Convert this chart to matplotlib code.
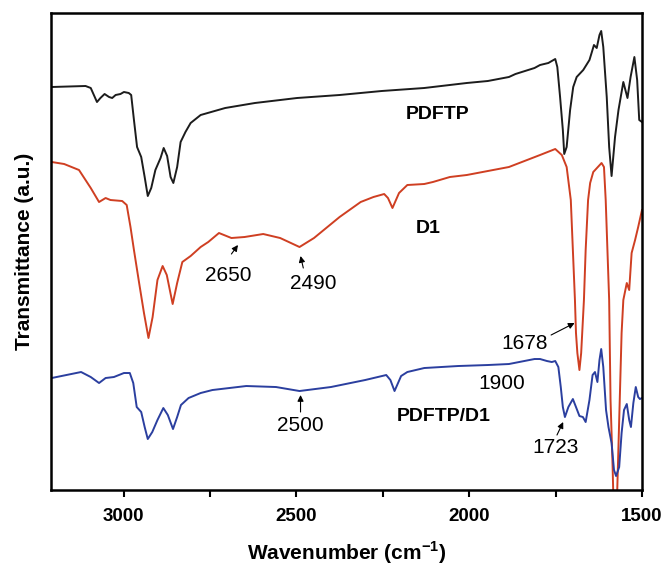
import matplotlib.pyplot as plt
from matplotlib.ticker import MultipleLocator

plt.rcParams['font.family'] = ['Liberation Sans', 'DejaVu Sans']
plt.rcParams['mathtext.fontset'] = 'custom'
plt.rcParams['mathtext.rm'] = 'Liberation Sans'
plt.rcParams['mathtext.bf'] = 'Liberation Sans:bold'

# FTIR spectra, transmittance in arbitrary units
pdftp_wn = [3208, 3110, 3095, 3077, 3067, 3055, 3042, 3033, 3023, 3009, 2999, 2985,
            2978, 2970, 2961, 2949, 2939, 2930, 2920, 2908, 2893, 2884, 2874, 2864,
            2856, 2845, 2835, 2821, 2806, 2777, 2706, 2620, 2498, 2375, 2253, 2130,
            2007, 1946, 1885, 1866, 1811, 1795, 1771, 1751, 1745, 1737, 1729, 1725,
            1718, 1708, 1699, 1689, 1670, 1652, 1645, 1639, 1631, 1623, 1618, 1612,
            1602, 1595, 1588, 1578, 1568, 1554, 1542, 1533, 1522, 1514, 1508, 1500]
pdftp_t = [403, 404, 402, 388, 392, 396, 393, 392, 395, 396, 398, 397,
           395, 370, 343, 333, 313, 294, 302, 320, 332, 342, 334, 313,
           307, 323, 348, 358, 367, 375, 382, 387, 392, 395, 399, 402,
           407, 409, 413, 416, 422, 425, 427, 431, 423, 393, 360, 336,
           343, 380, 403, 413, 420, 430, 438, 445, 442, 455, 459, 443,
           393, 343, 314, 353, 380, 408, 392, 413, 433, 410, 370, 368]

d1_wn = [3208, 3172, 3129, 3095, 3071, 3052, 3038, 3004, 2991, 2980, 2970, 2955,
         2941, 2928, 2916, 2902, 2887, 2875, 2858, 2845, 2830, 2806, 2777, 2755,
         2724, 2688, 2650, 2596, 2547, 2522, 2491, 2449, 2375, 2314, 2277, 2246,
         2235, 2222, 2203, 2179, 2130, 2105, 2056, 2007, 1885, 1795, 1751, 1732,
         1718, 1706, 1694, 1691, 1687, 1681, 1676, 1671, 1668, 1663, 1656, 1650,
         1641, 1617, 1610, 1605, 1595, 1591, 1585, 1583, 1572, 1567, 1559, 1554,
         1544, 1537, 1530, 1520, 1511, 1500]
d1_t = [328, 326, 320, 302, 288, 292, 290, 289, 285, 263, 240, 207,
        177, 152, 173, 210, 224, 215, 186, 207, 228, 234, 243, 248,
        257, 252, 253, 256, 252, 248, 243, 252, 273, 288, 293, 296,
        292, 282, 297, 305, 306, 308, 313, 315, 323, 335, 341, 335,
        323, 290, 190, 157, 137, 120, 137, 170, 190, 240, 290, 307,
        318, 327, 323, 290, 190, 90, 23, -5, -5, 57, 157, 190,
        207, 200, 237, 250, 263, 280]

blend_wn = [3208, 3123, 3095, 3071, 3052, 3028, 2999, 2982, 2972, 2962, 2949, 2939,
            2930, 2917, 2902, 2885, 2872, 2857, 2845, 2834, 2812, 2777, 2743, 2645,
            2559, 2491, 2400, 2301, 2240, 2228, 2216, 2197, 2179, 2130, 2032, 1946,
            1885, 1811, 1795, 1775, 1761, 1751, 1742, 1735, 1729, 1723, 1713, 1700,
            1691, 1681, 1671, 1663, 1652, 1643, 1636, 1629, 1623, 1618, 1612, 1604,
            1597, 1588, 1581, 1575, 1566, 1559, 1552, 1544, 1537, 1532, 1525, 1518,
            1511, 1506, 1500]
blend_t = [112, 118, 113, 107, 112, 113, 117, 117, 107, 83, 78, 63,
           51, 58, 70, 82, 75, 61, 73, 85, 92, 97, 100, 104,
           103, 99, 103, 110, 115, 110, 99, 114, 118, 122, 124, 125,
           126, 131, 131, 129, 128, 129, 123, 103, 83, 73, 83, 91,
           83, 74, 73, 68, 90, 115, 118, 108, 130, 141, 123, 80,
           63, 47, 20, 14, 23, 57, 80, 86, 70, 63, 87, 103,
           93, 91, 92]

spectra = [(pdftp_wn, pdftp_t, '#1c1c1c'),
           (d1_wn, d1_t, '#cf3f22'),
           (blend_wn, blend_t, '#2b3f9f')]

fig = plt.figure(figsize=(6.65, 5.65), dpi=100)
ax = fig.add_axes([0.0767, 0.1327, 0.8887, 0.8443])

for wn, t, c in spectra:
    ax.plot(wn, t, color=c, lw=1.4)

ax.set_xlim(3210, 1500)
ax.set_ylim(0, 477)
ax.set_yticks([])
ax.xaxis.set_major_locator(MultipleLocator(500))
ax.xaxis.set_minor_locator(MultipleLocator(250))
ax.tick_params(axis='x', which='both', direction='out', length=5, width=1.5,
               labelsize=13.5, pad=8)
for lab in ax.get_xticklabels():
    lab.set_fontweight('bold')
for sp in ax.spines.values():
    sp.set_linewidth(1.8)

ax.set_xlabel('Wavenumber (cm$^{\\mathbf{-1}}$)', fontsize=15, fontweight='bold', labelpad=10)
ax.set_ylabel('Transmittance (a.u.)', fontsize=15, fontweight='bold', labelpad=12)

# sample names
ax.text(2092, 376, 'PDFTP', fontsize=14, fontweight='bold', ha='center', va='center')
ax.text(2118, 262, 'D1', fontsize=14, fontweight='bold', ha='center', va='center')
ax.text(2075, 74, 'PDFTP/D1', fontsize=14, fontweight='bold', ha='center', va='center')

# peak labels with small arrows
arrow = dict(arrowstyle='-|>', color='k', lw=0.8, mutation_scale=9, shrinkA=0, shrinkB=0)
ax.annotate('', xy=(2669, 245), xytext=(2688, 236), arrowprops=arrow)
ax.text(2697, 215, '2650', fontsize=15, ha='center', va='center')
ax.annotate('', xy=(2488, 234), xytext=(2480, 222), arrowprops=arrow)
ax.text(2452, 207, '2490', fontsize=15, ha='center', va='center')
ax.annotate('', xy=(1695, 167), xytext=(1763, 155), arrowprops=arrow)
ax.text(1841, 147, '1678', fontsize=15, ha='center', va='center')
ax.text(1907, 107, '1900', fontsize=15, ha='center', va='center')
ax.annotate('', xy=(2488, 95), xytext=(2488, 78), arrowprops=arrow)
ax.text(2488, 65, '2500', fontsize=15, ha='center', va='center')
ax.annotate('', xy=(1728, 68), xytext=(1746, 55), arrowprops=arrow)
ax.text(1750, 43, '1723', fontsize=15, ha='center', va='center')

fig.savefig('out.png', dpi=100)
